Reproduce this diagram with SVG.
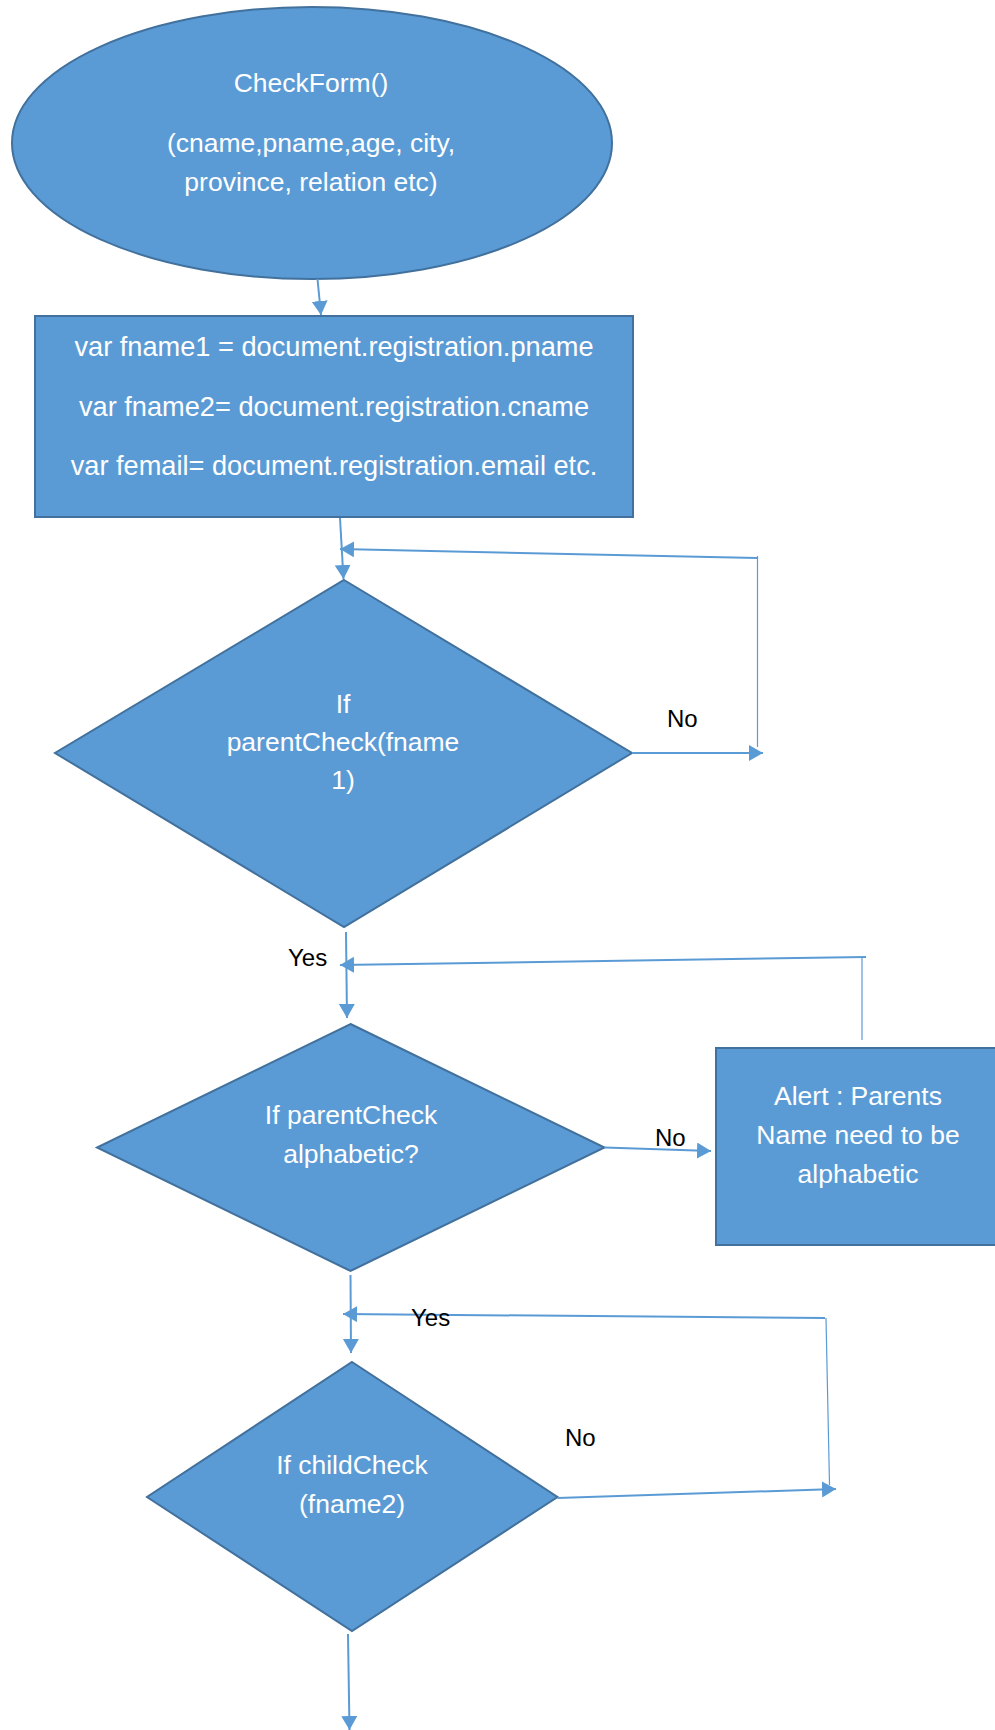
<svg xmlns="http://www.w3.org/2000/svg" width="995" height="1730" viewBox="0 0 995 1730">
<style>
.shape{fill:#5B9BD5;stroke:#41719C;stroke-width:2}
.nt{font-family:"Liberation Sans",Arial,sans-serif;font-size:26.5px;fill:#FFFFFF;text-anchor:middle}
.bt{font-size:27.2px}
.lbl{font-family:"Liberation Sans",Arial,sans-serif;font-size:24px;fill:#000000}
.c{fill:none;stroke:#5B9BD5;stroke-width:2}
.thin{fill:none;stroke:#5B9BD5;stroke-width:1.2}
</style>
<defs>
<marker id="ah" markerUnits="userSpaceOnUse" markerWidth="15" markerHeight="17" refX="14" refY="8" orient="auto">
<path d="M0,0 L14,8 L0,16 Z" fill="#5B9BD5"/>
</marker>
</defs>
<rect width="995" height="1730" fill="#FFFFFF"/>
<g id="start">
<ellipse class="shape" cx="312" cy="143" rx="300" ry="136"/>
<text class="nt" x="311" y="92">CheckForm()</text>
<text class="nt" x="311" y="152">(cname,pname,age, city,</text>
<text class="nt" x="311" y="191">province, relation etc)</text>
</g>
<g id="vars">
<rect class="shape" x="35" y="316" width="598" height="201"/>
<text class="nt bt" x="334" y="356">var fname1 = document.registration.pname</text>
<text class="nt bt" x="334" y="416">var fname2= document.registration.cname</text>
<text class="nt bt" x="334" y="475">var femail= document.registration.email etc.</text>
</g>
<g id="check1">
<polygon class="shape" points="344,580 632,753 344,927 55,753"/>
<text class="nt" x="343" y="713">If</text>
<text class="nt" x="343" y="751">parentCheck(fname</text>
<text class="nt" x="343" y="789">1)</text>
</g>
<g id="check2">
<polygon class="shape" points="350.5,1024 604.5,1147.5 350.5,1271 97,1147.5"/>
<text class="nt" x="351" y="1124">If parentCheck</text>
<text class="nt" x="351" y="1163">alphabetic?</text>
</g>
<g id="alert">
<rect class="shape" x="716" y="1048" width="300" height="197"/>
<text class="nt" x="858" y="1105">Alert : Parents</text>
<text class="nt" x="858" y="1144">Name need to be</text>
<text class="nt" x="858" y="1183">alphabetic</text>
</g>
<g id="check3">
<polygon class="shape" points="352,1362 557.5,1497 352,1631 147,1497"/>
<text class="nt" x="352" y="1474">If childCheck</text>
<text class="nt" x="352" y="1513">(fname2)</text>
</g>
<g id="connectors">
<path class="c" d="M317.5,279 L321,315" marker-end="url(#ah)"/>
<path class="c" d="M340,518 L343.5,579" marker-end="url(#ah)"/>
<path class="c" d="M632,753 L763,753" marker-end="url(#ah)"/>
<path class="thin" d="M757.5,556 L757.5,747"/>
<path class="c" d="M757,558 L340,549" marker-end="url(#ah)"/>
<path class="c" d="M346,932 L347,1018" marker-end="url(#ah)"/>
<path class="thin" d="M862,957 L862,1040"/>
<path class="c" d="M866,957 L340,965" marker-end="url(#ah)"/>
<path class="c" d="M604.5,1147.5 L711,1151" marker-end="url(#ah)"/>
<path class="c" d="M350.5,1275 L351,1353" marker-end="url(#ah)"/>
<path class="c" d="M825,1318 L343,1314" marker-end="url(#ah)"/>
<path class="thin" d="M826,1318 L829.5,1485"/>
<path class="c" d="M557.5,1498 L836,1489" marker-end="url(#ah)"/>
<path class="c" d="M348,1634 L349.5,1730" marker-end="url(#ah)"/>
</g>
<g id="labels">
<text class="lbl" x="667" y="727">No</text>
<text class="lbl" x="288" y="966">Yes</text>
<text class="lbl" x="655" y="1146">No</text>
<text class="lbl" x="411" y="1326">Yes</text>
<text class="lbl" x="565" y="1446">No</text>
</g>
</svg>
